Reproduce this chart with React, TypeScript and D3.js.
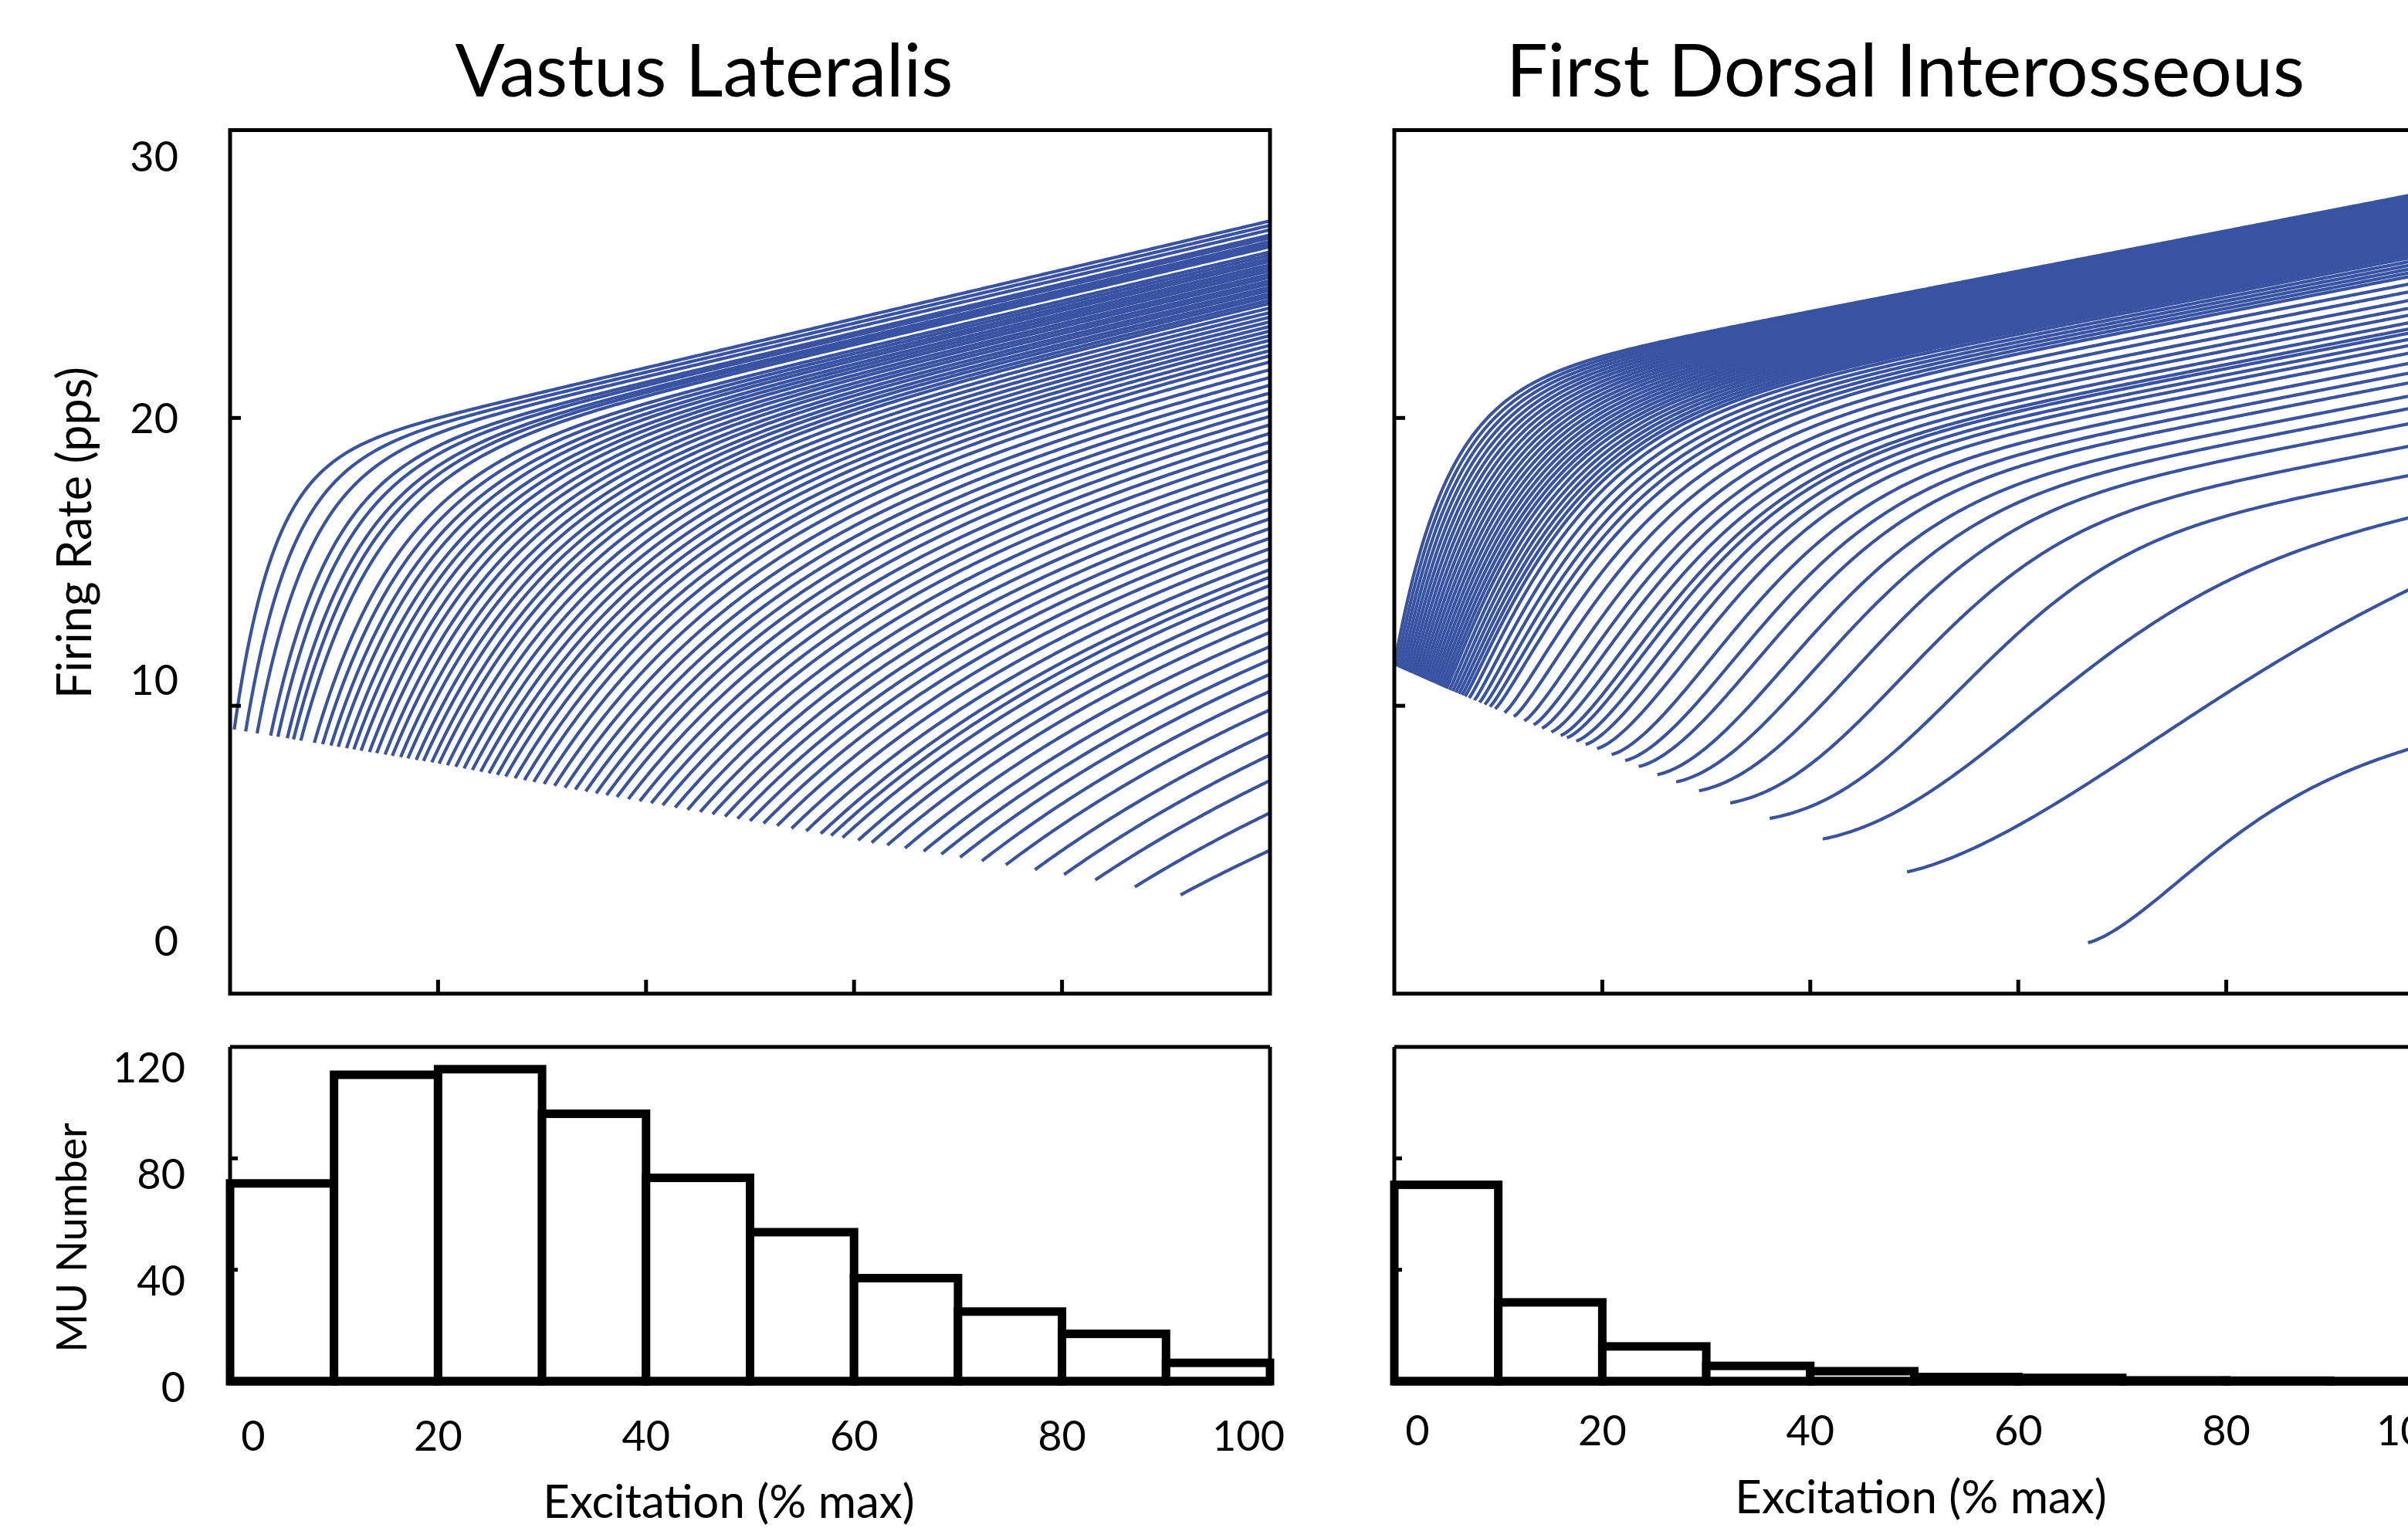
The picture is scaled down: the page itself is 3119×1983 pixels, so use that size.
import React from 'react';
import * as d3 from 'd3';

const W = 3119;
const H = 1983;
const blue = '#3953a3';
const font = 'Lato, "Open Sans", sans-serif';

// recruitment thresholds (% max excitation) of the plotted units
const vlThresholds = [0.4, 1.5, 2.6, 3.9, 4.6, 5.5, 6.1, 6.8, 8.1, 8.9, 9.7,
  10.4, 11.2, 11.9, 12.6, 13.4, 14.1, 14.9, 15.6, 16.4, 17.1, 17.9, 18.6, 19.4,
  20.1, 20.9, 21.7, 22.5, 23.3, 24.1, 24.9, 25.7, 26.5, 27.4, 28.3, 29.2,
  30.2, 31.2, 32.2, 33.2, 34.2, 35.2, 36.2, 37.2, 38.3, 39.4,
  40.5, 41.6, 42.8, 44.0, 45.2, 46.4, 47.6, 48.8,
  50.0, 51.3, 52.6, 54.0, 55.4, 56.8, 57.8, 58.9,
  60.4, 61.7, 63.2, 64.9, 66.7, 68.4,
  70.2, 72.3, 74.6, 77.4, 80.2, 83.2, 87.0, 91.4];

const fdiThresholds = [0.0, 0.25, 0.5, 0.75, 1.0, 1.25, 1.5, 1.75, 2.0, 2.25, 2.5,
  2.75, 3.0, 3.25, 3.5, 3.75, 4.0, 4.25, 4.5, 4.75, 5.0, 5.3, 5.6, 5.9, 6.2,
  6.5, 6.8, 7.2, 7.7, 8.2, 8.7, 9.2, 9.7,
  10.6, 11.5, 12.5, 13.4, 14.2, 15.1, 16.0, 16.6, 17.5, 18.4, 19.5,
  20.9, 22.2, 23.5, 25.3, 27.1, 29.3,
  32.3, 36.1, 41.2, 49.3, 66.7];

// per-threshold shape of the rate curves, read at a few thresholds
const vlAnchorT = [0, 10, 20, 30, 40, 50, 60, 70, 80, 91.4];
const vlOnsetRate = [9.2, 8.6, 8.0, 7.3, 6.65, 6.0, 5.35, 4.75, 4.15, 3.43];
const vlRateAt100 = [26.9, 25.5, 24.0, 22.0, 19.3, 16.5, 13.9, 11.15, 8.35, 4.98];
const vlRiseConst = [3.5, 9, 13.5, 18, 22, 25, 28, 30, 30, 30];
const vlRiseShape = [1, 1, 1, 1, 1, 1, 1, 1, 1, 1];
const vlTailSlope = 0.085;

const fdiAnchorT = [0, 5, 10, 15, 20, 25, 30, 36, 41, 49.3, 66.7];
const fdiOnsetRate = [11.4, 10.6, 9.85, 9.1, 8.45, 7.65, 6.95, 6.1, 5.4, 4.23, 1.77];
const fdiRateAt100 = [27.9, 26.3, 25.0, 23.5, 22.3, 21.0, 19.8, 18.2, 16.8, 14.45, 8.75];
const fdiRiseConst = [4.9, 9, 13, 15, 16.5, 19, 21.5, 24, 28, 40, 16];
const fdiRiseShape = [1, 1.1, 1.2, 1.4, 1.6, 1.8, 2.0, 2.2, 2.0, 1.7, 1.6];
const fdiTailSlope = 0.07;

// histograms of MU number per 10 % excitation bin
const binStarts = [0, 10, 20, 30, 40, 50, 60, 70, 80, 90];
const vlCounts = [71, 110, 112, 96, 73, 53.5, 37, 25, 17, 6.6];
const fdiCounts = [70.5, 28.3, 12.5, 5.5, 3.6, 1.5, 1.2, 0.3, 0.2, 0];

const rateTicks = [10, 20];
const rateLabels = [0, 10, 20, 30];
const excTicks = [20, 40, 60, 80];
const excLabels = [0, 20, 40, 60, 80, 100];
const countTicks = [40, 80];
const countLabels = [0, 40, 80, 120];

const panelW = 1347;
const top = { y0: 168.5, y1: 1287 };
const hist = { y0: 1356, y1: 1789 };

function buildCurves(thresholds, anchorT, onsetRates, endRates, riseConsts, riseShapes, tailSlope) {
  const onset = d3.scaleLinear().domain(anchorT).range(onsetRates).clamp(true);
  const end = d3.scaleLinear().domain(anchorT).range(endRates).clamp(true);
  const tauS = d3.scaleLinear().domain(anchorT).range(riseConsts).clamp(true);
  const pS = d3.scaleLinear().domain(anchorT).range(riseShapes).clamp(true);
  return thresholds.map(t => {
    const r0 = onset(t), rEnd = end(t), tau = tauS(t), p = pS(t);
    const g = d => 1 - Math.exp(-Math.pow(d / tau, p));
    const span = 100 - t;
    const amp = (rEnd - r0 - tailSlope * span) / g(span);
    const xs = d3.range(t, 100, 0.25).concat([100]);
    return xs.map(x => [x, r0 + amp * g(x - t) + tailSlope * (x - t)]);
  });
}

function Panel({ x0, title, titleX, labelX, curves, counts, labelsY, labelBase, axisBase }) {
  const x = d3.scaleLinear().domain([0, 100]).range([x0, x0 + panelW]);
  const y = d3.scaleLinear().domain([0, 30]).range([top.y1, top.y0]);
  const yLab = d3.scaleLinear().domain([0, 30]).range([1219, 203]);
  const yh = d3.scaleLinear().domain([0, 120]).range([hist.y1, hist.y0]);
  const yhLab = d3.scaleLinear().domain([0, 120]).range([1797, 1383]);
  const line = d3.line().x(d => x(d[0])).y(d => y(d[1]));
  const xl = x(0), xr = x(100);
  const nudge = v => (v === 0 ? 30 : v === 100 ? -28 : 0);
  return (
    <g>
      <text x={titleX} y={125} textAnchor="middle" fontSize={95} fontFamily={font}>{title}</text>
      {curves.map((c, i) => (
        <path key={i} d={line(c)} fill="none" stroke={blue} strokeWidth={4.2} />
      ))}
      <rect x={xl} y={top.y0} width={xr - xl} height={top.y1 - top.y0} fill="none" stroke="#000" strokeWidth={5} />
      {excTicks.map(v => (
        <line key={v} x1={x(v)} x2={x(v)} y1={top.y1} y2={top.y1 - 18} stroke="#000" strokeWidth={5} />
      ))}
      {rateTicks.map(v => (
        <line key={v} x1={xl} x2={xl + 14} y1={y(v)} y2={y(v)} stroke="#000" strokeWidth={5} />
      ))}
      {labelsY && rateLabels.map(v => (
        <text key={v} x={231} y={yLab(v)} dy="0.36em" textAnchor="end" fontSize={54} fontFamily={font}>{v}</text>
      ))}

      {binStarts.map((b, i) => (
        <rect key={b} x={x(b)} y={yh(counts[i])} width={x(b + 10) - x(b)}
          height={Math.max(yh(0) - yh(counts[i]), 0.01)} fill="#fff" stroke="#000" strokeWidth={11} />
      ))}
      <line x1={xl} x2={xr} y1={hist.y0} y2={hist.y0} stroke="#000" strokeWidth={5} />
      <line x1={xl} x2={xl} y1={hist.y0} y2={hist.y1} stroke="#000" strokeWidth={5} />
      <line x1={xr} x2={xr} y1={hist.y0} y2={hist.y1} stroke="#000" strokeWidth={5} />
      <line x1={xl - 3} x2={xr + 3} y1={hist.y1} y2={hist.y1} stroke="#000" strokeWidth={11} />
      {countTicks.map(v => (
        <line key={v} x1={xl} x2={xl + 10} y1={yh(v)} y2={yh(v)} stroke="#000" strokeWidth={5} />
      ))}
      {labelsY && countLabels.map(v => (
        <text key={v} x={240} y={yhLab(v)} dy="0.36em" textAnchor="end" fontSize={54} fontFamily={font}>{v}</text>
      ))}
      {excLabels.map(v => (
        <text key={v} x={x(v) + nudge(v)} y={labelBase} textAnchor="middle" fontSize={54} fontFamily={font}>{v}</text>
      ))}
      <text x={labelX} y={axisBase} textAnchor="middle" fontSize={60} fontFamily={font}>Excitation (% max)</text>
    </g>
  );
}

export default function App() {
  const vlCurves = buildCurves(vlThresholds, vlAnchorT, vlOnsetRate, vlRateAt100, vlRiseConst, vlRiseShape, vlTailSlope);
  const fdiCurves = buildCurves(fdiThresholds, fdiAnchorT, fdiOnsetRate, fdiRateAt100, fdiRiseConst, fdiRiseShape, fdiTailSlope);
  return (
    <svg width={W} height={H} style={{ position: 'absolute', left: 0, top: 0, display: 'block' }}>
      <rect width={W} height={H} fill="#fff" />
      <Panel x0={298} title="Vastus Lateralis" titleX={912} labelX={944} curves={vlCurves}
        counts={vlCounts} labelsY={true} labelBase={1879} axisBase={1966} />
      <Panel x0={1806} title="First Dorsal Interosseous" titleX={2468} labelX={2488} curves={fdiCurves}
        counts={fdiCounts} labelsY={false} labelBase={1872} axisBase={1960} />
      <text transform="translate(118,690) rotate(-90)" textAnchor="middle" fontSize={61} fontFamily={font}>Firing Rate (pps)</text>
      <text transform="translate(112,1603) rotate(-90)" textAnchor="middle" fontSize={54} fontFamily={font}>MU Number</text>
    </svg>
  );
}
